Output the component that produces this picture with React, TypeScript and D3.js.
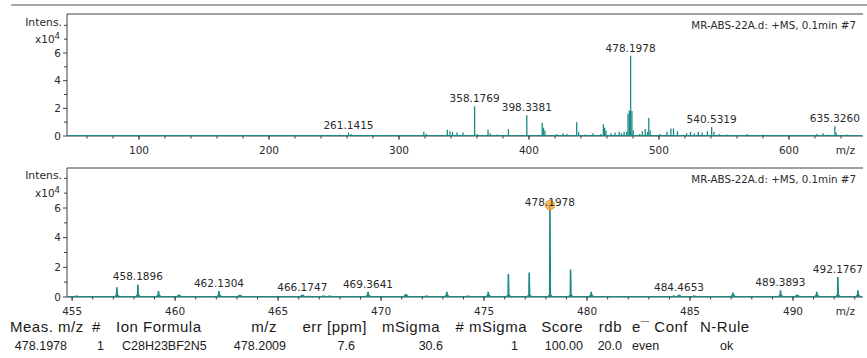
import React from 'react';
import * as d3 from 'd3';

const W = 867;
const H = 358;

// Full-range spectrum: [m/z, intensity x10^4]
const overviewPeaks: [number, number][] = [
  [241.1, 0.05], [261.1415, 0.25], [263.1, 0.15], [265.1, 0.08], [279.2, 0.06],
  [298.2, 0.05], [319.1, 0.3], [321.1, 0.15], [337.2, 0.45], [339.2, 0.35],
  [341.2, 0.3], [344.6, 0.25], [349.2, 0.25], [358.1769, 2.15], [360.2, 0.15],
  [368.5, 0.45], [370.2, 0.2], [375.2, 0.1], [384.2, 0.5], [391.2, 0.05],
  [398.3381, 1.5], [410.2, 0.95], [411.2, 0.6], [412.3, 0.4], [421.5, 0.15],
  [426.2, 0.2], [429.2, 0.15], [436.7, 1.0], [438.2, 0.3], [443.2, 0.1],
  [449.2, 0.2], [455.2, 0.15], [457.2, 0.85], [458.2, 0.6], [459.2, 0.4],
  [463.2, 0.2], [466.2, 0.25], [469.4, 0.3], [471.2, 0.2], [473.2, 0.3],
  [475.2, 0.3], [476.2, 1.6], [477.2, 1.85], [478.1978, 5.8], [479.2, 1.8],
  [480.2, 0.4], [485.2, 0.15], [487.2, 0.35], [489.4, 0.5], [491.2, 0.3],
  [492.1767, 1.3], [493.2, 0.4], [500.7, 0.15], [506.2, 0.3], [509.2, 0.55],
  [511.2, 0.55], [514.2, 0.35], [521.2, 0.2], [524.3, 0.3], [527.2, 0.2],
  [530.3, 0.3], [533.2, 0.25], [537.3, 0.35], [540.5319, 0.65], [542.3, 0.3],
  [546.3, 0.15], [552.3, 0.1], [558.3, 0.08], [567.7, 0.15], [574.3, 0.05],
  [580.3, 0.1], [590.3, 0.05], [600.3, 0.05], [611.3, 0.06], [621.5, 0.15],
  [626.3, 0.2], [630.3, 0.1], [635.326, 0.7], [636.3, 0.25], [644.6, 0.1],
  [650.3, 0.06],
];
const overviewLabels = [261.1415, 358.1769, 398.3381, 478.1978, 540.5319, 635.326];
const overviewMajorTicks = [100, 200, 300, 400, 500, 600];

// Expanded region around the molecular ion: [m/z, intensity x10^4]
const zoomPeaks: [number, number][] = [
  [455.2, 0.1], [456.1, 0.05], [457.17, 0.65], [458.1896, 0.85], [459.19, 0.4],
  [460.18, 0.15], [461.2, 0.05], [462.1304, 0.4], [463.14, 0.15], [464.2, 0.05],
  [465.2, 0.05], [466.1747, 0.15], [466.5, 0.08], [467.2, 0.1], [467.5, 0.1],
  [468.2, 0.05], [469.3641, 0.35], [470.2, 0.05], [471.2, 0.2], [472.2, 0.1],
  [473.19, 0.35], [474.2, 0.1], [475.2, 0.35], [476.18, 1.55], [477.19, 1.65],
  [478.1978, 6.2], [479.2, 1.85], [480.2, 0.35], [481.2, 0.05], [482.2, 0.05],
  [483.5, 0.05], [484.2, 0.1], [484.4653, 0.15], [485.2, 0.1], [487.08, 0.3],
  [488.2, 0.05], [489.3893, 0.45], [490.2, 0.15], [491.15, 0.35], [492.1767, 1.35],
  [493.15, 0.45],
];
const zoomLabels = [458.1896, 462.1304, 466.1747, 469.3641, 478.1978, 484.4653, 489.3893, 492.1767];
const zoomMajorTicks = [455, 460, 465, 470, 475, 480, 485, 490];
const markedPeak = 478.1978;

const yLabelTicks = [0, 2, 4, 6];
const yAllTicks = [0, 1, 2, 3, 4, 5, 6, 7, 8];
const spectrumTitle = 'MR-ABS-22A.d: +MS, 0.1min #7';

// Formula match table
const tableHeaders = ['Meas. m/z', '#', 'Ion Formula', 'm/z', 'err [ppm]', 'mSigma', '# mSigma', 'Score', 'rdb', 'e\u00AF Conf', 'N-Rule'];
const tableValues = ['478.1978', '1', 'C28H23BF2N5', '478.2009', '7.6', '30.6', '1', '100.00', '20.0', 'even', 'ok'];

const TEAL = '#1a8a85';
const AXIS = '#404040';
const TEXT = '#2a2a2a';
const FONT = '"DejaVu Sans", Verdana, sans-serif';
const TABLE_FONT = '"Liberation Sans", Arial, sans-serif';

const headerLayout: [number, 'start' | 'end'][] = [
  [10, 'start'], [92, 'start'], [116, 'start'], [277, 'end'], [367, 'end'], [440, 'end'],
  [527, 'end'], [583, 'end'], [622, 'end'], [632, 'start'], [700, 'start'],
];
const rowLayout: [number, 'start' | 'end'][] = [
  [67, 'end'], [97, 'start'], [122, 'start'], [286, 'end'], [355, 'end'], [443, 'end'],
  [518, 'end'], [583, 'end'], [622, 'end'], [632, 'start'], [720, 'start'],
];

type PanelProps = {
  peaks: [number, number][];
  labels: number[];
  majorTicks: number[];
  minorStep: number;
  domain: [number, number];
  frameTop: number;
  base: number;
  six: number;
  profile: boolean;
  marked?: number;
};

function Panel({ peaks, labels, majorTicks, minorStep, domain, frameTop, base, six, profile, marked }: PanelProps) {
  const left = 67;
  const right = 863;
  const x = d3.scaleLinear().domain(domain).range([left, 862]);
  const y = d3.scaleLinear().domain([0, 6]).range([base, six]);
  const minor = d3.range(Math.ceil(domain[0] / minorStep) * minorStep, domain[1], minorStep);
  const peakMap = new Map(peaks.map((p) => [p[0], p[1]]));

  const spike = (m: number, v: number) => {
    const cx = x(m);
    const top = y(v);
    const skirt = Math.min(2.5, base - top);
    return `M${cx - 3},${base} L${cx - 1},${base - skirt} L${cx - 0.8},${top} L${cx + 0.8},${top} L${cx + 1.2},${base - skirt} L${cx + 3.5},${base} Z`;
  };

  return (
    <g>
      {/* frame */}
      <line x1={left} x2={right} y1={frameTop} y2={frameTop} stroke={AXIS} strokeWidth={1} />
      <line x1={left} x2={left} y1={frameTop} y2={base} stroke={AXIS} strokeWidth={1} />
      <line x1={left} x2={right} y1={base} y2={base} stroke={AXIS} strokeWidth={1} />

      {/* y ticks */}
      {yAllTicks.map((t) => (
        <line key={'yt' + t} x1={left - (t % 2 === 0 && t < 8 ? 4 : 3)} x2={left} y1={y(t)} y2={y(t)} stroke={AXIS} />
      ))}
      {yLabelTicks.map((t) => (
        <text key={'yl' + t} x={61} y={y(t)} dy="0.36em" textAnchor="end" fontFamily={FONT} fontSize={10.5} fill={TEXT}>
          {t}
        </text>
      ))}
      <text x={62} y={y(8) - 3} dy="0.36em" textAnchor="end" fontFamily={FONT} fontSize={10.8} fill={TEXT}>
        Intens.
      </text>
      <text x={60} y={y(7)} dy="0.36em" textAnchor="end" fontFamily={FONT} fontSize={10.5} fill={TEXT}>
        x10<tspan dy="-0.45em" fontSize={8.5}>4</tspan>
      </text>

      {/* x ticks */}
      {minor.map((t) => (
        <line key={'xm' + t} x1={x(t)} x2={x(t)} y1={base} y2={base + 2.5} stroke={AXIS} />
      ))}
      {majorTicks.map((t) => (
        <g key={'xM' + t}>
          <line x1={x(t)} x2={x(t)} y1={base} y2={base + 4} stroke={AXIS} />
          <text x={x(t)} y={base + 18} textAnchor="middle" fontFamily={FONT} fontSize={10.5} fill={TEXT}>
            {t}
          </text>
        </g>
      ))}
      <text x={855} y={base + 18} textAnchor="end" fontFamily={FONT} fontSize={10.5} fill={TEXT}>
        m/z
      </text>

      {/* title */}
      <text x={856} y={frameTop + 15} textAnchor="end" fontFamily={FONT} fontSize={10.3} fill={TEXT}>
        {spectrumTitle}
      </text>

      {/* spectrum */}
      <line x1={left + 1} x2={862} y1={base - 0.5} y2={base - 0.5} stroke={TEAL} strokeWidth={1} />
      {peaks.map(([m, v]) =>
        profile ? (
          <path key={'p' + m} d={spike(m, v)} fill={TEAL} />
        ) : (
          <line key={'p' + m} x1={x(m)} x2={x(m)} y1={base} y2={y(v)} stroke={TEAL} strokeWidth={1.3} />
        )
      )}

      {marked !== undefined && (
        <circle cx={x(marked)} cy={y(peakMap.get(marked) || 0)} r={4.8} fill="#f4a93a" fillOpacity={0.8} stroke="#e89424" strokeWidth={0.8} />
      )}

      {/* peak labels */}
      {labels.map((m) => {
        const v = peakMap.get(m) || 0;
        const offset = m === marked ? -1 : 4;
        return (
          <text key={'l' + m} x={x(m)} y={y(v) - offset} textAnchor="middle" fontFamily={FONT} fontSize={10.5} fill={TEXT}>
            {m.toFixed(4)}
          </text>
        );
      })}
    </g>
  );
}

export default function App() {
  return (
    <svg width={W} height={H} style={{ position: 'absolute', left: 0, top: 0, background: '#fff' }}>
      <rect width={W} height={H} fill="#fff" />
      <line x1={11} x2={W} y1={5} y2={5} stroke="#8a8a8a" strokeWidth={1.5} />

      <Panel
        peaks={overviewPeaks}
        labels={overviewLabels}
        majorTicks={overviewMajorTicks}
        minorStep={20}
        domain={[44.6, 656.2]}
        frameTop={14}
        base={136}
        six={53}
        profile={false}
      />
      <Panel
        peaks={zoomPeaks}
        labels={zoomLabels}
        majorTicks={zoomMajorTicks}
        minorStep={1}
        domain={[454.75, 493.35]}
        frameTop={168}
        base={297}
        six={208}
        profile={true}
        marked={markedPeak}
      />

      {/* result table */}
      {tableHeaders.map((h, i) => (
        <text key={'h' + i} x={headerLayout[i][0]} y={332} textAnchor={headerLayout[i][1]} fontFamily={TABLE_FONT} fontSize={15} letterSpacing={0.5} fill="#1a1a1a">
          {h}
        </text>
      ))}
      {tableValues.map((v, i) => (
        <text key={'v' + i} x={rowLayout[i][0]} y={350} textAnchor={rowLayout[i][1]} fontFamily={TABLE_FONT} fontSize={12.5} fill="#1a1a1a">
          {v}
        </text>
      ))}
    </svg>
  );
}
